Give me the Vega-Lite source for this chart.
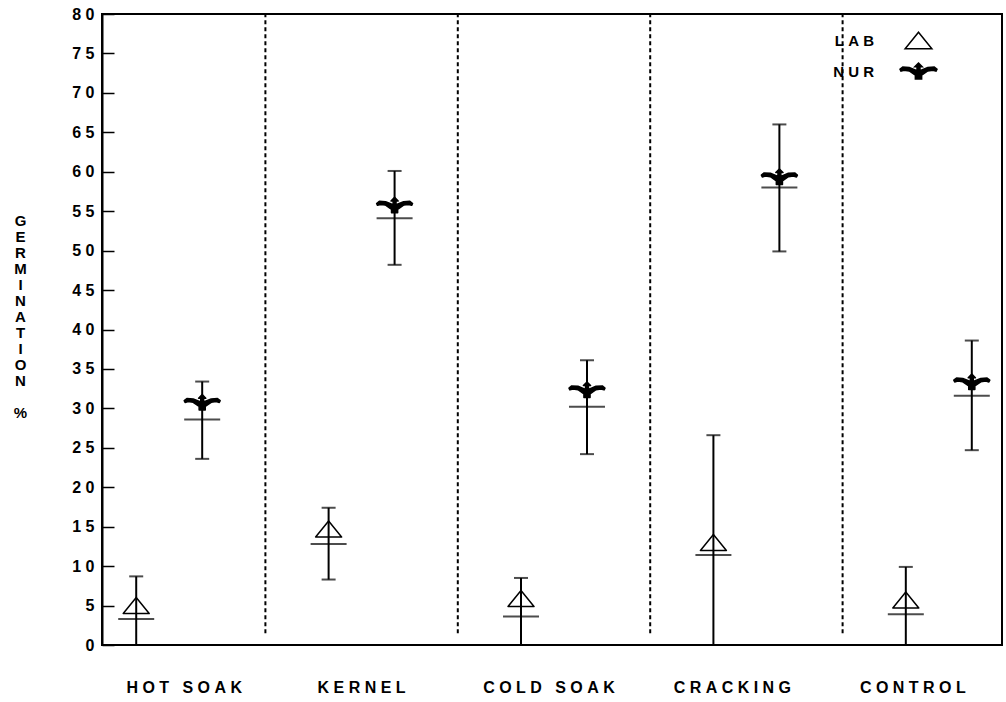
{
  "$schema": "https://vega.github.io/schema/vega-lite/v6.json",
  "autosize": {"type": "none"},
  "width": 900,
  "height": 631,
  "padding": {"left": 102, "top": 14, "right": 4, "bottom": 57},
  "background": "white",
  "config": {
    "view": {"stroke": "black", "strokeWidth": 2},
    "font": "Liberation Sans",
    "legend": {"rowPadding": -21, "padding": 0}
  },
  "datasets": {
    "germ": [
      {"treatment": "HOT SOAK", "source": "LAB", "lo": 0, "hi": 8.7, "mean": 3.3, "marker": 5.0},
      {"treatment": "HOT SOAK", "source": "NUR", "lo": 23.6, "hi": 33.4, "mean": 28.6, "marker": 30.7},
      {"treatment": "KERNEL", "source": "LAB", "lo": 8.3, "hi": 17.4, "mean": 12.8, "marker": 14.7},
      {"treatment": "KERNEL", "source": "NUR", "lo": 48.2, "hi": 60.1, "mean": 54.1, "marker": 55.7},
      {"treatment": "COLD SOAK", "source": "LAB", "lo": 0, "hi": 8.5, "mean": 3.6, "marker": 5.9},
      {"treatment": "COLD SOAK", "source": "NUR", "lo": 24.2, "hi": 36.1, "mean": 30.2, "marker": 32.3},
      {"treatment": "CRACKING", "source": "LAB", "lo": 0, "hi": 26.6, "mean": 11.4, "marker": 13.0},
      {"treatment": "CRACKING", "source": "NUR", "lo": 49.9, "hi": 66.0, "mean": 58.0, "marker": 59.3},
      {"treatment": "CONTROL", "source": "LAB", "lo": 0, "hi": 9.9, "mean": 3.9, "marker": 5.7},
      {"treatment": "CONTROL", "source": "NUR", "lo": 24.7, "hi": 38.6, "mean": 31.6, "marker": 33.3}
    ],
    "dividers": [
      {"treatment": "KERNEL", "bottom": 1.5, "top": 80},
      {"treatment": "COLD SOAK", "bottom": 1.5, "top": 80},
      {"treatment": "CRACKING", "bottom": 1.5, "top": 80},
      {"treatment": "CONTROL", "bottom": 1.5, "top": 80}
    ]
  },
  "encoding": {
    "x": {
      "field": "treatment",
      "type": "nominal",
      "scale": {
        "domain": ["HOT SOAK", "KERNEL", "COLD SOAK", "CRACKING", "CONTROL"],
        "range": [-29, 933],
        "paddingInner": 0,
        "paddingOuter": 0
      },
      "axis": {
        "title": null,
        "labelAngle": 0,
        "ticks": false,
        "domain": false,
        "labelFont": "Liberation Sans",
        "labelFontSize": 16,
        "labelFontWeight": "bold",
        "labelColor": "black",
        "labelPadding": 34,
        "labelExpr": "join(split(datum.label, ''), '\u00a0')",
        "labelOffset": {
          "condition": [
            {"test": "datum.value === 'HOT SOAK'", "value": 15},
            {"test": "datum.value === 'COLD SOAK'", "value": -5},
            {"test": "datum.value === 'CRACKING'", "value": -14},
            {"test": "datum.value === 'CONTROL'", "value": -26}
          ],
          "value": 0
        }
      }
    },
    "y": {
      "type": "quantitative",
      "scale": {"domain": [0, 80], "nice": false, "zero": true},
      "axis": {
        "values": [0, 5, 10, 15, 20, 25, 30, 35, 40, 45, 50, 55, 60, 65, 70, 75, 80],
        "grid": false,
        "domainColor": "black",
        "domainWidth": 2,
        "tickColor": "black",
        "tickWidth": 1.5,
        "tickSize": -12,
        "labelPadding": 20,
        "labelFont": "Liberation Sans",
        "labelFontSize": 16,
        "labelFontWeight": "bold",
        "labelColor": "black",
        "labelExpr": "join(split(datum.label, ''), '\u00a0')",
        "title": ["G", "E", "R", "M", "I", "N", "A", "T", "I", "O", "N", "\u2800", "%"],
        "titleAngle": 0,
        "titleFont": "Liberation Sans",
        "titleFontSize": 15,
        "titleFontWeight": "bold",
        "titleColor": "black",
        "titleLineHeight": 16,
        "titleAlign": "center",
        "titleBaseline": "top",
        "titleX": -82,
        "titleY": 199
      }
    }
  },
  "layer": [
    {
      "data": {"name": "dividers"},
      "mark": {"type": "rule", "color": "black", "strokeWidth": 2, "strokeDash": [4, 3]},
      "encoding": {
        "x": {"field": "treatment", "type": "nominal", "bandPosition": 0},
        "y": {"field": "bottom", "type": "quantitative"},
        "y2": {"field": "top"}
      }
    },
    {
      "data": {"name": "germ"},
      "mark": {"type": "rule", "color": "black", "strokeWidth": 2},
      "encoding": {
        "xOffset": {"field": "source", "type": "nominal", "scale": {"domain": ["LAB", "NUR"], "paddingOuter": 0.458, "paddingInner": 0}},
        "y": {"field": "lo", "type": "quantitative"},
        "y2": {"field": "hi"}
      }
    },
    {
      "data": {"name": "germ"},
      "mark": {"type": "tick", "color": "black", "thickness": 2, "size": 14},
      "encoding": {
        "xOffset": {"field": "source", "type": "nominal"},
        "y": {"field": "hi", "type": "quantitative"}
      }
    },
    {
      "data": {"name": "germ"},
      "transform": [{"filter": "datum.lo > 0"}],
      "mark": {"type": "tick", "color": "black", "thickness": 2, "size": 14},
      "encoding": {
        "xOffset": {"field": "source", "type": "nominal"},
        "y": {"field": "lo", "type": "quantitative"}
      }
    },
    {
      "data": {"name": "germ"},
      "mark": {"type": "tick", "color": "black", "thickness": 2, "size": 36},
      "encoding": {
        "xOffset": {"field": "source", "type": "nominal"},
        "y": {"field": "mean", "type": "quantitative"}
      }
    },
    {
      "data": {"name": "germ"},
      "mark": {"type": "point", "strokeWidth": 1.5, "size": 1296, "opacity": 1, "strokeJoin": "round", "filled": false},
      "encoding": {
        "xOffset": {"field": "source", "type": "nominal"},
        "y": {"field": "marker", "type": "quantitative"},
        "shape": {
          "field": "source",
          "type": "nominal",
          "scale": {
            "domain": ["LAB", "NUR"],
            "range": [
              "M0,-0.444L0.722,0.444L-0.722,0.444Z",
              "M0,-0.46L0.2,-0.26L0.08,-0.26L0.08,-0.05L0.5,-0.22L0.85,-0.24L1,-0.12L0.95,-0.02L0.78,-0.07L0.5,-0.03L0.17,0.2L0.17,0.4L-0.17,0.4L-0.17,0.2L-0.5,-0.03L-0.78,-0.07L-0.95,-0.02L-1,-0.12L-0.85,-0.24L-0.5,-0.22L-0.08,-0.05L-0.08,-0.26L-0.2,-0.26Z"
            ]
          },
          "legend": {
            "title": null,
            "orient": "none",
            "legendX": 797,
            "legendY": 7,
            "symbolSize": 1369,
            "symbolStrokeWidth": 1.5,
            "labelAlign": "right",
            "labelOffset": -64,
            "labelFont": "Liberation Sans",
            "labelFontSize": 15,
            "labelFontWeight": "bold",
            "labelColor": "black",
            "labelExpr": "join(split(datum.label, ''), '\u00a0')"
          }
        },
        "fill": {
          "field": "source",
          "type": "nominal",
          "scale": {"domain": ["LAB", "NUR"], "range": ["transparent", "black"]}
        },
        "stroke": {
          "field": "source",
          "type": "nominal",
          "scale": {"domain": ["LAB", "NUR"], "range": ["black", "black"]}
        }
      }
    }
  ]
}
